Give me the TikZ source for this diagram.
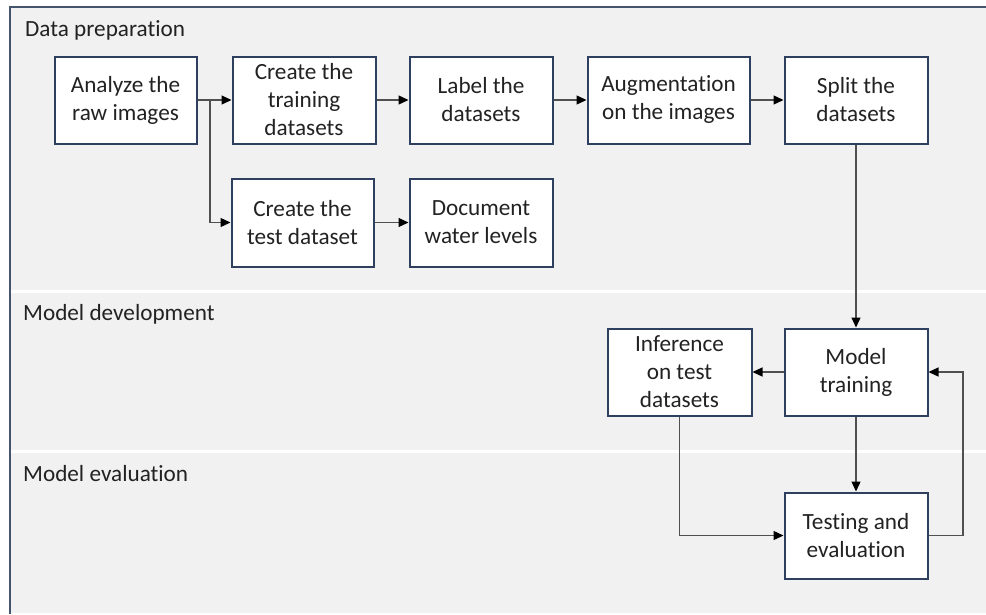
\documentclass[tikz,border=0pt]{standalone}
\usepackage{fontspec}
\setmainfont{Carlito}[Ligatures=NoCommon]
\usetikzlibrary{arrows.meta}
\definecolor{panel}{HTML}{F1F1F1}
\definecolor{frameblue}{HTML}{44546A}
\definecolor{boxedge}{HTML}{2F3F5F}
\definecolor{wire}{HTML}{505050}
\definecolor{ink}{HTML}{222222}
\begin{document}
\begin{tikzpicture}[x=1pt,y=-1pt,
  stage/.style={draw=boxedge, line width=2pt, fill=white, text=ink, align=center,
    inner sep=0pt, minimum height=87pt, font=\fontsize{23.2}{28}\selectfont},
  flow/.style={draw=wire, line width=1.3pt, -{Triangle[length=10pt,width=9pt,black]}},
  phase/.style={anchor=base west, text=ink, inner sep=0pt, font=\fontsize{23.2}{28}\selectfont}]
\useasboundingbox (0,0) rectangle (986,614);
% panel background, separators and frame
\fill[panel] (10,7) rectangle (986,613);
\draw[white, line width=3pt] (11,291) -- (986,291) (11,451) -- (986,451);
\draw[frameblue, line width=2pt] (10,614) -- (10,7) -- (986,7);

% phase titles
\node[phase] (p1) at (25,36) {Data preparation};
\node[phase] (p2) at (23,320) {Model development};
\node[phase] (p3) at (23,481) {Model evaluation};

% data preparation
\node[stage, minimum width=142pt] (analyze) at (125.5,100) {Analyze the\\raw images};
\node[stage, minimum width=143pt] (training) at (304,100) {Create the\\training\\datasets};
\node[stage, minimum width=143pt] (label) at (481,100) {Label the\\datasets};
\node[stage, minimum width=162pt] (augment) at (668.5,100) {Augmentation\\on the images};
\node[stage, minimum width=143pt] (split) at (856,100) {Split the\\datasets};
\node[stage, minimum width=142pt, minimum height=88pt] (test) at (302.5,222.5) {Create the\\test dataset};
\node[stage, minimum width=143pt, minimum height=88pt] (document) at (481,222.5) {Document\\water levels};

% model development and evaluation
\node[stage, minimum width=144pt] (infer) at (679.5,372) {Inference\\on test\\datasets};
\node[stage, minimum width=143pt] (train) at (856,372) {Model\\training};
\node[stage, minimum width=143pt, minimum height=86pt] (evaluate) at (856,535.5) {Testing and\\evaluation};

% connectors
\coordinate (fork) at (210,100);
\coordinate (loop) at (963,372);
\draw[flow] (analyze.east) -- (training.west);
\draw[flow] (fork) |- (test.west);
\draw[flow] (training) -- (label);
\draw[flow] (label) -- (augment);
\draw[flow] (augment) -- (split);
\draw[flow] (test) -- (document);
\draw[flow] (split.south) -- (train.north);
\draw[flow] (train.west) -- (infer.east);
\draw[flow] (train.south) -- (evaluate.north);
\draw[flow] (infer.south) |- (evaluate.west);
\draw[flow] (evaluate.east) -| (loop) -- (train.east);
\end{tikzpicture}
\end{document}
